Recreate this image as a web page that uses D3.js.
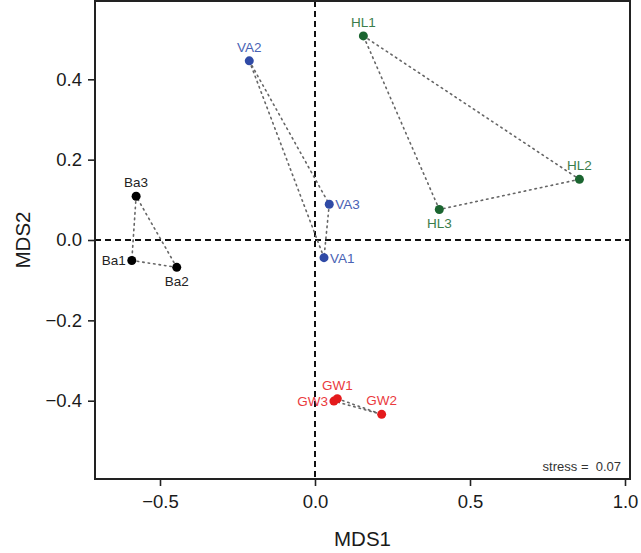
<!DOCTYPE html>
<html><head><meta charset="utf-8">
<script src="https://cdn.jsdelivr.net/npm/d3@7/dist/d3.min.js"></script>
<style>body{margin:0;background:#fff}svg{display:block}text{font-family:"Liberation Sans",Arial,sans-serif}</style>
</head><body><svg id="c" width="641" height="553"></svg>
<script>
const names = ["Ba1","Ba2","Ba3","VA1","VA2","VA3","HL1","HL2","HL3","GW1","GW2","GW3"];
const groups = ["Ba","Ba","Ba","VA","VA","VA","HL","HL","HL","GW","GW","GW"];
const mds1 = [-0.591,-0.446,-0.577, 0.029,-0.212, 0.046, 0.156, 0.853, 0.401, 0.072, 0.215, 0.061];
const mds2 = [-0.051,-0.068, 0.109,-0.044, 0.446, 0.089, 0.508, 0.151, 0.076,-0.395,-0.434,-0.401];
const labelSide = ["left","below","above","right","above","right","above","above","below","above","above","left"];
const xTicks = [-0.5, 0.0, 0.5, 1.0];
const yTicks = [-0.4, -0.2, 0.0, 0.2, 0.4];
const stress = 0.07;
const groupColor = {Ba:"#000000", VA:"#2f4aa6", HL:"#1b6530", GW:"#e41a1c"};
const labelColor = {Ba:"#222222", VA:"#4a62b4", HL:"#3a7d4a", GW:"#ea3a3e"};

const svg = d3.select("#c");
const L=95, R=630, T=1, B=479;
const x = d3.scaleLinear().domain([0, 0.5]).range([315, 470]);
const y = d3.scaleLinear().domain([0, 0.4]).range([240, 79.3]);

const pts = names.map((n,i)=>({n, g:groups[i], x:mds1[i], y:mds2[i], side:labelSide[i]}));

const fmt = d=>d3.format(".1f")(d).replace("-","\u2212");
const xa = svg.append("g").attr("transform",`translate(0,${B})`)
  .call(d3.axisBottom(x).tickValues(xTicks).tickFormat(fmt).tickSize(7).tickPadding(9));
const ya = svg.append("g").attr("transform",`translate(${L},0)`)
  .call(d3.axisLeft(y).tickValues(yTicks).tickFormat(fmt).tickSize(7).tickPadding(6));
[xa,ya].forEach(a=>{
  a.select(".domain").remove();
  a.selectAll("line").attr("stroke","#222").attr("stroke-width",1.6);
  a.selectAll("text").attr("font-size",18.5).attr("fill","#1a1a1a");
});

svg.append("line").attr("x1",x(0)).attr("x2",x(0)).attr("y1",T).attr("y2",B)
  .attr("stroke","#111").attr("stroke-width",2).attr("stroke-dasharray","6,4");
svg.append("line").attr("x1",L).attr("x2",R).attr("y1",y(0)).attr("y2",y(0))
  .attr("stroke","#111").attr("stroke-width",2).attr("stroke-dasharray","6,4");

const gs = Array.from(new Set(groups));
gs.forEach(g=>{
  const p = pts.filter(d=>d.g===g);
  for(let i=0;i<p.length;i++){
    const a=p[i], b=p[(i+1)%p.length];
    svg.append("line").attr("x1",x(a.x)).attr("y1",y(a.y)).attr("x2",x(b.x)).attr("y2",y(b.y))
      .attr("stroke","#666").attr("stroke-width",1.6).attr("stroke-dasharray","1.5,4").attr("stroke-linecap","round");
  }
});

svg.selectAll("circle.p").data(pts).enter().append("circle")
  .attr("cx",d=>x(d.x)).attr("cy",d=>y(d.y)).attr("r",4.5).attr("fill",d=>groupColor[d.g]);

svg.selectAll("text.l").data(pts).enter().append("text")
  .attr("font-size",13.5).attr("fill",d=>labelColor[d.g])
  .attr("x",d=>x(d.x) + (d.side==="left"?-6:d.side==="right"?6:0))
  .attr("y",d=>y(d.y) + (d.side==="above"?-9:d.side==="below"?19:5))
  .attr("text-anchor",d=>d.side==="left"?"end":d.side==="right"?"start":"middle")
  .text(d=>d.n);

svg.append("rect").attr("x",L).attr("y",T).attr("width",R-L).attr("height",B-T)
  .attr("fill","none").attr("stroke","#222").attr("stroke-width",2);

svg.append("text").attr("x",R-9).attr("y",B-8).attr("text-anchor","end")
  .style("white-space","pre")
  .attr("font-size",13).attr("fill","#333").text("stress =  " + stress.toFixed(2));

svg.append("text").attr("x",(L+R)/2).attr("y",546).attr("text-anchor","middle")
  .attr("font-size",20.5).attr("fill","#1a1a1a").text("MDS1");
svg.append("text").attr("transform",`translate(30,${(T+B)/2}) rotate(-90)`).attr("text-anchor","middle")
  .attr("font-size",20.5).attr("fill","#1a1a1a").text("MDS2");
</script></body></html>
